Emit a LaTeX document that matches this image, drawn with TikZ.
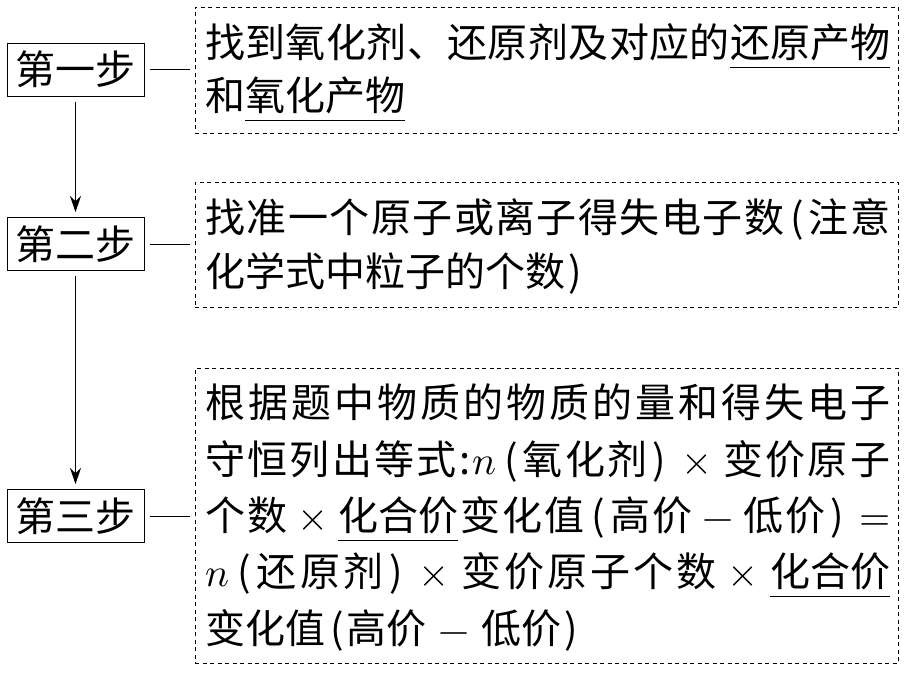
\documentclass[tikz,border=0pt]{standalone}
\usepackage{fontspec}
\usepackage{unicode-math}
\setmainfont{Noto Sans CJK SC}
\setmathfont{Latin Modern Math}
\usetikzlibrary{arrows.meta}
\makeatletter
\newcommand\jline[2]{\hbox to #1{\def\jl@sep{}\@tfor\jl@t:=#2\do{\jl@sep\jl@t\def\jl@sep{\hfil}}}}
\makeatother
\newcommand\myul[1]{\setbox0\hbox{#1}\rlap{\rule[-11pt]{\wd0}{1pt}}\box0}
\newcommand\mtimes{\hspace{8pt}$\times$\hspace{8pt}}
\newcommand\mminus{\hspace{8pt}$-$\hspace{8pt}}
\newcommand\lp{\hspace{5pt}(\hspace{3pt}}
\newcommand\rp{\hspace{3pt})\hspace{5pt}}
\begin{document}
\begin{tikzpicture}[x=1pt,y=-1pt,
  stepbox/.style={draw, line width=1pt, minimum width=137pt, minimum height=53pt, inner sep=0pt, font=\fontsize{40}{48}\selectfont},
  dbox/.style={draw, line width=1pt, dash pattern=on 4pt off 3.5pt, minimum width=703pt, inner sep=0pt},
  txt/.style={inner sep=0pt, anchor=base west, font=\fontsize{40}{48}\selectfont},
  link/.style={line width=1pt, shorten <=5pt, shorten >=5pt},
  flow/.style={link, -{Stealth[length=16pt,width=11pt]}}]
\useasboundingbox (0,0) rectangle (904,672);
% step boxes
\node[stepbox] (s1) at (75.5,69.5) {第一步};
\node[stepbox] (s2) at (75.5,244) {第二步};
\node[stepbox] (s3) at (75.5,516) {第三步};
% dashed boxes
\node[dbox, minimum height=126pt] (d1) at (546.5,70) {};
\node[dbox, minimum height=125pt] (d2) at (546.5,244.5) {};
\node[dbox, minimum height=295pt] (d3) at (546.5,515.5) {};
% connectors
\draw[link] (s1.east) -- (s1.east -| d1.west);
\draw[link] (s2.east) -- (s2.east -| d2.west);
\draw[link] (s3.east) -- (s3.east -| d3.west);
\draw[flow] (s1) -- (s2);
\draw[flow] (s2) -- (s3);
% texts box 1
\node[txt] (t11) at (205,57) {\jline{685pt}{找到氧化剂、还原剂及对应的{\myul{还原产物}}}};
\node[txt] (t12) at (205,110) {和\myul{氧化产物}};
% texts box 2
\node[txt] (t21) at (205,232) {\jline{685pt}{找准一个原子或离子得失电子数\lp 注意}};
\node[txt] (t22) at (205,286) {化学式中粒子的个数\rp};
% texts box 3
\node[txt] (t31) at (205,417) {\jline{685pt}{根据题中物质的物质的量和得失电子}};
\node[txt] (t32) at (205,474) {\jline{685pt}{守恒列出等式:{$n$}\lp 氧化剂\rp\mtimes 变价原子}};
\node[txt] (t33) at (205,530) {\jline{685pt}{个数\mtimes{\myul{化合价}}变化值\lp 高价\mminus 低价\rp{\hspace{8pt}$=$}}};
\node[txt] (t34) at (205,586) {\jline{685pt}{{$n$}\lp 还原剂\rp\mtimes 变价原子个数\mtimes{\myul{化合价}}}};
\node[txt] (t35) at (205,643) {变化值\lp 高价\hspace{4pt}\mminus\hspace{4pt}低价\rp};
\end{tikzpicture}
\end{document}
